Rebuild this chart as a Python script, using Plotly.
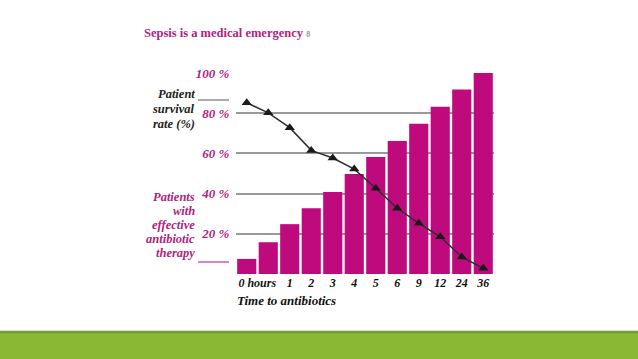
import plotly.graph_objects as go

# ---- data ----
bar_positions = [0, 1, 2, 3, 4, 5, 6, 7, 8, 9, 10, 11]
time_tick_labels = ["0 hours", "", "1", "2", "3", "4", "5", "6", "9", "12", "24", "36"]
effective_therapy = [7.5, 15.8, 24.8, 32.7, 40.8, 49.8, 58.2, 66.2, 74.8, 83.2, 91.8, 100]
survival_rate = [85.2, 80.2, 72.8, 61.5, 57.7, 52.2, 42.7, 32.7, 25.3, 18.5, 8.5, 2.8]
y_ticks = [20, 40, 60, 80, 100]
y_tick_labels = ["20 %", "40 %", "60 %", "80 %", "100 %"]
survival_label_lines = ["Patient", "survival", "rate (%)"]
therapy_label_lines = ["Patients", "with", "effective", "antibiotic", "therapy"]

W, H = 638, 359
L, R, T, B = 236, 144, 72, 85
pw, ph = W - L - R, H - T - B

def px(x):
    return (x - L) / pw

def py(y):
    return 1 - (y - T) / ph

MAG = "#BE0A7C"
TMAG = "#B0247C"
FONT = "Liberation Serif"
NB = "\u00a0"

tick_text = [(NB * 7 + t) if t.endswith("hours") else t for t in time_tick_labels]

fig = go.Figure()
fig.add_trace(go.Bar(x=bar_positions, y=effective_therapy, marker=dict(color=MAG, line=dict(width=0)),
                     showlegend=False))
fig.add_trace(go.Scatter(x=bar_positions, y=survival_rate, mode="lines+markers",
                         line=dict(color="#2e2e2e", width=1.5),
                         marker=dict(symbol="triangle-up", size=9, color="#1a1a1a"),
                         showlegend=False))

fig.update_layout(
    width=W, height=H,
    margin=dict(l=L, r=R, t=T, b=B, autoexpand=False),
    paper_bgcolor="white", plot_bgcolor="white",
    bargap=0.11,
    showlegend=False,
    xaxis=dict(tickmode="array", tickvals=bar_positions, ticktext=tick_text,
               range=[-0.5, 11.5], tickangle=0, automargin=False,
               showgrid=False, zeroline=False, showline=False, ticks="",
               tickfont=dict(family=FONT, size=12, color="#111", style="italic", weight="bold")),
    yaxis=dict(range=[0, 100.5], tickmode="array", tickvals=y_ticks, ticktext=y_tick_labels,
               automargin=False,
               showgrid=True, gridcolor="#999999", gridwidth=1.5, zeroline=False,
               showline=False, ticks="outside", ticklen=3, tickcolor="rgba(0,0,0,0)",
               tickfont=dict(family=FONT, size=13, color=TMAG, style="italic", weight="bold")),
)

ann = []
ann.append(dict(text="Sepsis is a medical emergency <span style='font-size:8px;color:#999'>8</span>",
                x=px(143), y=py(33), xref="paper", yref="paper", xanchor="left", yanchor="middle",
                showarrow=False, borderpad=0,
                font=dict(family=FONT, size=12.5, color=TMAG, weight="bold")))
for i, t in enumerate(survival_label_lines):
    ann.append(dict(text="<i>" + t + "</i>",
                    x=px(196), y=py(94 + 15 * i), xref="paper", yref="paper",
                    xanchor="right", yanchor="middle", showarrow=False, borderpad=0,
                    font=dict(family=FONT, size=12.5, color="#222", weight="bold")))
for i, t in enumerate(therapy_label_lines):
    ann.append(dict(text="<i>" + t + "</i>",
                    x=px(196), y=py(197 + 14 * i), xref="paper", yref="paper",
                    xanchor="right", yanchor="middle", showarrow=False, borderpad=0,
                    font=dict(family=FONT, size=12.5, color=TMAG, weight="bold")))
ann.append(dict(text="<i>Time to antibiotics</i>",
                x=px(236), y=py(300), xref="paper", yref="paper", xanchor="left", yanchor="middle",
                showarrow=False, borderpad=0,
                font=dict(family=FONT, size=13, color="#111", weight="bold")))
fig.update_layout(annotations=ann)

shapes = [
    dict(type="line", xref="paper", yref="paper", x0=px(198), x1=px(229), y0=py(100), y1=py(100),
         line=dict(color="#555", width=1)),
    dict(type="line", xref="paper", yref="paper", x0=px(198), x1=px(229), y0=py(262), y1=py(262),
         line=dict(color=MAG, width=1)),
    dict(type="rect", xref="paper", yref="paper", x0=px(0), x1=px(W), y0=py(H), y1=py(331.5),
         fillcolor="#8BB833", line=dict(width=0), layer="above"),
    dict(type="line", xref="paper", yref="paper", x0=px(0), x1=px(W), y0=py(332), y1=py(332),
         line=dict(color="#6C9E35", width=2.5)),
]
fig.update_layout(shapes=shapes)

fig.write_html("out.html", config={"displayModeBar": False},
               post_script="document.body.style.margin='0';document.body.style.overflow='hidden';")
